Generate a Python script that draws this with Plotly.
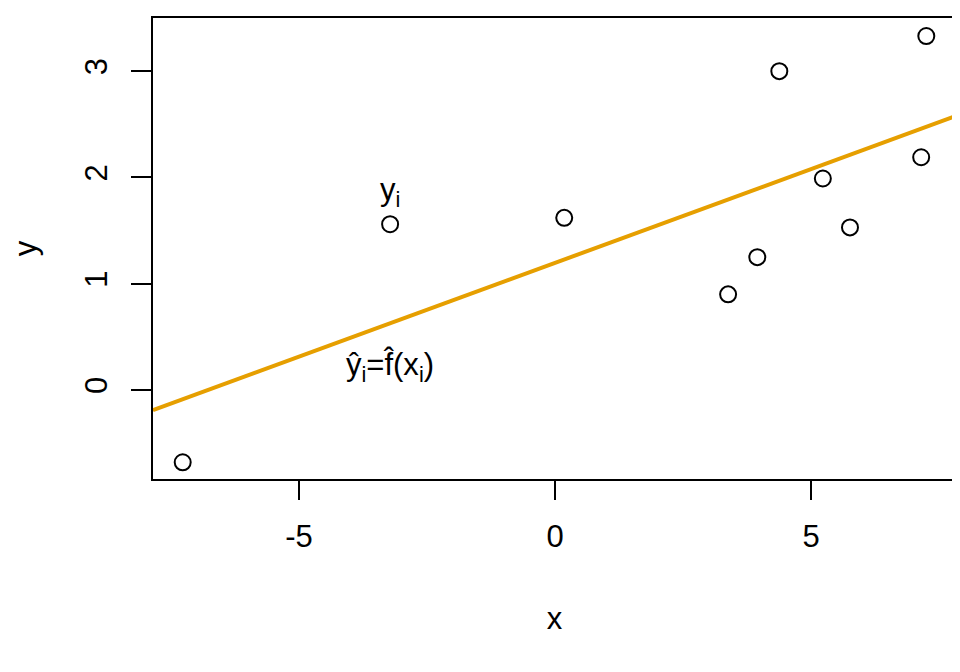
import numpy as np
import plotly.graph_objects as go

x_vals = [-7.27, -3.22, 0.18, 3.38, 3.95, 4.38, 5.23, 5.76, 7.15, 7.25]
y_vals = [-0.68, 1.56, 1.62, 0.90, 1.25, 3.00, 1.99, 1.53, 2.19, 3.33]
x_ticks = [-5, 0, 5]
x_tick_labels = ["-5", "0", "5"]
y_ticks = [0, 1, 2, 3]
y_tick_labels = ["0", "1", "2", "3"]
x_range = [-7.85, 7.83]
y_range = [-0.837, 3.50]

slope, intercept = np.polyfit(x_vals, y_vals, 1)
line_x = np.array(x_range)
line_y = intercept + slope * line_x

FONT = "Liberation Sans, Arial, sans-serif"
TF = dict(family=FONT, size=31, color="black")

fig = go.Figure()
fig.add_trace(go.Scatter(x=line_x, y=line_y, mode="lines",
                         line=dict(color="#E69F00", width=4), showlegend=False))
fig.add_trace(go.Scatter(x=x_vals, y=y_vals, mode="markers",
                         marker=dict(symbol="circle-open", size=16, color="black",
                                     line=dict(width=2, color="black")),
                         showlegend=False))

idx = 1
fig.add_annotation(x=x_vals[idx], y=1.86, text="y<sub>i</sub>", showarrow=False,
                   font=TF)
fig.add_annotation(x=x_vals[idx], y=0.22, text="\u0177<sub>i</sub>=f\u0302(x<sub>i</sub>)",
                   showarrow=False, font=TF)

# page body has an 8px default margin; compensate so the plot sits where intended
fig.update_layout(
    width=952, height=664,
    margin=dict(l=145, r=4, t=10, b=193),
    plot_bgcolor="white", paper_bgcolor="white",
    font=TF,
)
fig.update_xaxes(range=x_range, tickvals=x_ticks, ticktext=x_tick_labels, tickfont=TF,
                 ticks="outside", ticklen=19, tickwidth=2,
                 tickcolor="black", showline=True, linecolor="black", linewidth=2,
                 mirror=True, showgrid=False, zeroline=False, automargin=False,
                 title=dict(text="x", standoff=54, font=TF), ticklabelstandoff=10)
fig.update_yaxes(range=y_range, tickvals=y_ticks, ticktext=y_tick_labels, tickfont=TF,
                 ticks="outside", ticklen=20, tickwidth=2,
                 tickcolor="black", showline=True, linecolor="black", linewidth=2,
                 mirror=True, showgrid=False, zeroline=False, tickangle=-90, automargin=False,
                 title=dict(text="y", standoff=45, font=TF), ticklabelstandoff=12)

fig.write_html("out.html")
